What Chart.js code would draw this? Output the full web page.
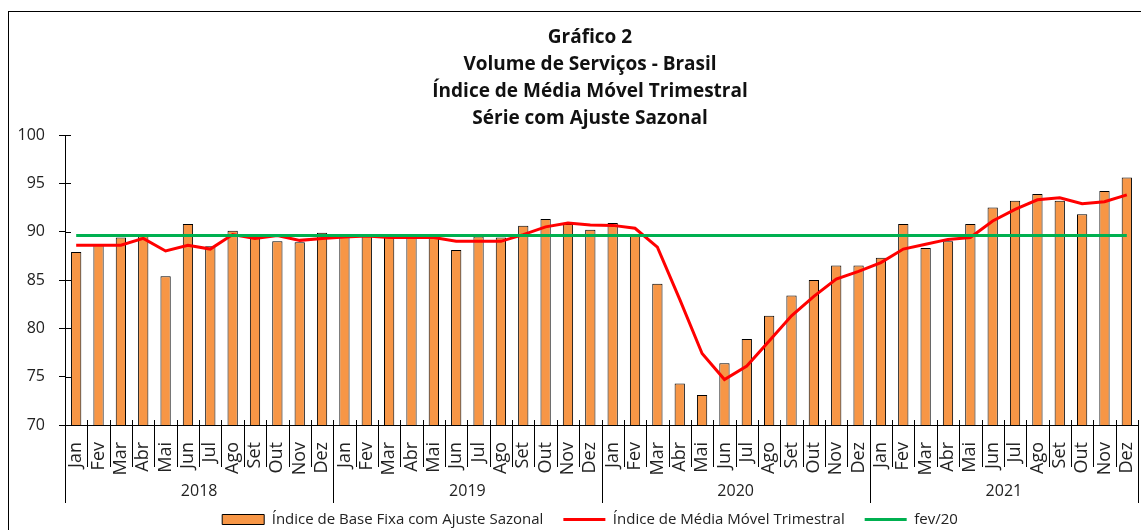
<!DOCTYPE html>
<html>
<head>
<meta charset="utf-8">
<script src="https://cdn.jsdelivr.net/npm/chart.js@4.4.1/dist/chart.umd.min.js"></script>
<style>
    html, body { margin: 0; padding: 0; background: #fff; overflow: hidden; }
    #wrap { width: 1180px; height: 530px; }
</style>
</head>
<body>
<div id="wrap"><canvas id="servicosChart"></canvas></div>
<script>
// chart data

const months = ['Jan', 'Fev', 'Mar', 'Abr', 'Mai', 'Jun', 'Jul', 'Ago', 'Set', 'Out', 'Nov', 'Dez',
                'Jan', 'Fev', 'Mar', 'Abr', 'Mai', 'Jun', 'Jul', 'Ago', 'Set', 'Out', 'Nov', 'Dez',
                'Jan', 'Fev', 'Mar', 'Abr', 'Mai', 'Jun', 'Jul', 'Ago', 'Set', 'Out', 'Nov', 'Dez',
                'Jan', 'Fev', 'Mar', 'Abr', 'Mai', 'Jun', 'Jul', 'Ago', 'Set', 'Out', 'Nov', 'Dez'];

const years = ['2018', '2019', '2020', '2021'];

const baseFixa = [87.9, 88.7, 89.4, 89.7, 85.4, 90.8, 88.5, 90.1, 89.4, 89.0, 88.9, 89.9,
                  89.6, 89.7, 89.5, 89.5, 89.5, 88.1, 89.5, 89.4, 90.6, 91.3, 90.8, 90.2,
                  90.9, 89.7, 84.6, 74.3, 73.1, 76.4, 78.9, 81.3, 83.4, 85.0, 86.5, 86.5,
                  87.3, 90.8, 88.3, 89.0, 90.8, 92.5, 93.2, 93.9, 93.2, 91.8, 94.2, 95.6];

const mediaMovel = [88.6, 88.6, 88.6, 89.3, 88.0, 88.6, 88.2, 89.7, 89.3, 89.6, 89.1, 89.3,
                    89.45, 89.55, 89.4, 89.4, 89.4, 89.0, 89.0, 89.0, 89.7, 90.5, 90.9, 90.7,
                    90.65, 90.35, 88.4, 83.0, 77.4, 74.7, 76.1, 78.7, 81.3, 83.3, 85.1, 85.9,
                    86.8, 88.2, 88.7, 89.2, 89.4, 91.1, 92.3, 93.3, 93.5, 92.9, 93.1, 93.8];

const fev20 = [89.6, 89.6, 89.6, 89.6, 89.6, 89.6, 89.6, 89.6, 89.6, 89.6, 89.6, 89.6,
               89.6, 89.6, 89.6, 89.6, 89.6, 89.6, 89.6, 89.6, 89.6, 89.6, 89.6, 89.6,
               89.6, 89.6, 89.6, 89.6, 89.6, 89.6, 89.6, 89.6, 89.6, 89.6, 89.6, 89.6,
               89.6, 89.6, 89.6, 89.6, 89.6, 89.6, 89.6, 89.6, 89.6, 89.6, 89.6, 89.6];

const yTicks = [70, 75, 80, 85, 90, 95, 100];

Chart.defaults.font.family = '"Open Sans", sans-serif';
Chart.defaults.color = '#222';

// month separators, year row, inner y ticks and the outer frame
const excelAxis = {
    id: 'excelAxis',
    afterDraw(chart) {
        const ctx = chart.ctx;
        const x = chart.scales.x;
        const y = chart.scales.y;
        const bottom = chart.chartArea.bottom;
        const n = months.length;

        ctx.save();
        ctx.strokeStyle = '#000';
        ctx.lineWidth = 1;

        const edge = i => {
            if (i === 0) return x.left;
            if (i === n) return x.right;
            return (x.getPixelForValue(i - 1) + x.getPixelForValue(i)) / 2;
        };

        for (let i = 0; i <= n; i++) {
            const px = Math.round(edge(i)) + 0.5;
            ctx.beginPath();
            ctx.moveTo(px, bottom - 5);
            ctx.lineTo(px, bottom + (i % 12 === 0 ? 78 : 42));
            ctx.stroke();
        }

        // small ticks inside the plot on the y axis
        yTicks.forEach(v => {
            const py = Math.round(y.getPixelForValue(v)) + 0.5;
            ctx.beginPath();
            ctx.moveTo(x.left, py);
            ctx.lineTo(x.left + 6, py);
            ctx.stroke();
        });

        ctx.fillStyle = '#222';
        ctx.font = '16px "Open Sans", sans-serif';
        ctx.textAlign = 'center';
        ctx.textBaseline = 'middle';
        years.forEach((yr, k) => {
            const cx = (edge(k * 12) + edge(k * 12 + 12)) / 2;
            ctx.fillText(yr, cx, bottom + 66);
        });

        ctx.strokeRect(8.5, 11.5, chart.width - 17, chart.height + 20);
        ctx.restore();
    }
};

const ctx_serv = document.getElementById('servicosChart').getContext('2d');

new Chart(ctx_serv, {
    type: 'bar',
    data: {
        labels: months,
        datasets: [{
            type: 'bar',
            label: 'Índice de Base Fixa com Ajuste Sazonal',
            data: baseFixa,
            backgroundColor: '#f79646',
            borderColor: '#000',
            borderWidth: 1,
            barPercentage: 0.46,
            categoryPercentage: 1,
            pointStyle: 'rect',
            order: 3
        }, {
            type: 'line',
            label: 'Índice de Média Móvel Trimestral',
            data: mediaMovel,
            borderColor: '#ff0000',
            backgroundColor: '#ff0000',
            borderWidth: 3,
            pointRadius: 0,
            tension: 0,
            pointStyle: 'line',
            order: 2
        }, {
            type: 'line',
            label: 'fev/20',
            data: fev20,
            borderColor: '#00b050',
            backgroundColor: '#00b050',
            borderWidth: 3,
            pointRadius: 0,
            pointStyle: 'line',
            order: 1
        }]
    },
    options: {
        responsive: true,
        maintainAspectRatio: false,
        animation: false,
        layout: {
            padding: { left: 17, right: 17, top: 0, bottom: -7 }
        },
        scales: {
            x: {
                offset: true,
                grid: { display: false },
                border: { display: true, color: '#000', width: 1 },
                ticks: {
                    autoSkip: false,
                    maxRotation: 90,
                    minRotation: 90,
                    padding: 9,
                    color: '#222',
                    font: { size: 18 }
                },
                afterFit: scale => { scale.height = 67; }
            },
            y: {
                min: 70,
                max: 100,
                afterBuildTicks: scale => {
                    scale.ticks = yTicks.map(v => ({ value: v }));
                },
                grid: {
                    drawOnChartArea: false,
                    tickLength: 6,
                    color: '#000'
                },
                border: { display: true, color: '#000', width: 1 },
                ticks: {
                    padding: 14,
                    color: '#222',
                    font: { size: 16 }
                },
                afterFit: scale => { scale.width = 48; }
            },
            // empty right box, keeps the title and legend centred like the original frame
            yRight: {
                type: 'linear',
                position: 'right',
                grid: { display: false },
                border: { display: false },
                ticks: { display: false },
                afterFit: scale => { scale.width = 25; }
            }
        },
        plugins: {
            title: {
                display: true,
                text: ['Gráfico 2', 'Volume de Serviços - Brasil', 'Índice de Média Móvel Trimestral', 'Série com Ajuste Sazonal'],
                color: '#111',
                font: { size: 19, weight: 'bold', lineHeight: 27 / 19 },
                padding: { top: 24, bottom: 3 }
            },
            legend: {
                position: 'bottom',
                labels: {
                    usePointStyle: true,
                    pointStyleWidth: 42,
                    boxHeight: 10,
                    padding: 20,
                    color: '#222',
                    font: { size: 15 },
                    sort: (a, b) => a.datasetIndex - b.datasetIndex
                }
            },
            tooltip: { enabled: false }
        }
    },
    plugins: [excelAxis]
});
</script>
</body>
</html>
